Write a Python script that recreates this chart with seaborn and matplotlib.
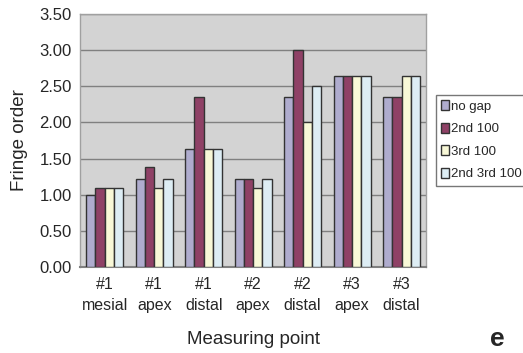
import numpy as np
import pandas as pd
import seaborn as sns
import matplotlib.pyplot as plt
from matplotlib.ticker import FixedLocator

# Measuring points (two-line tick labels)
points = ["#1\nmesial", "#1\napex", "#1\ndistal", "#2\napex", "#2\ndistal", "#3\napex", "#3\ndistal"]

# Fringe order for each gap condition
no_gap = [1.00, 1.22, 1.63, 1.22, 2.35, 2.64, 2.35]
second_100 = [1.09, 1.38, 2.35, 1.22, 3.00, 2.64, 2.35]
third_100 = [1.09, 1.09, 1.63, 1.09, 2.00, 2.64, 2.64]
second_third_100 = [1.09, 1.22, 1.63, 1.22, 2.50, 2.64, 2.64]

series_names = ["no gap", "2nd 100", "3rd 100", "2nd 3rd 100"]
series_colors = ["#aaa6d4", "#9c3466", "#fdfdd2", "#d9eef8"]

y_ticks = [0.0, 0.5, 1.0, 1.5, 2.0, 2.5, 3.0, 3.5]

rows = []
for name, vals in zip(series_names, [no_gap, second_100, third_100, second_third_100]):
    for p, v in zip(points, vals):
        rows.append({"point": p, "condition": name, "fringe": v})
df = pd.DataFrame(rows)

sns.set_theme(style="white")
plt.rcParams["font.family"] = ["Liberation Sans", "DejaVu Sans"]

fig = plt.figure(figsize=(5.23, 3.53), dpi=100)
ax = fig.add_axes([0.153, 0.244, 0.662, 0.716])
ax.set_facecolor("#d3d3d3")

sns.barplot(data=df, x="point", y="fringe", hue="condition", order=points,
            hue_order=series_names, palette=series_colors, width=0.75, gap=0,
            edgecolor="#333333", linewidth=1.0, errorbar=None, ax=ax, zorder=3)

ax.set_ylim(0, 3.5)
ax.set_xlim(-0.5, len(points) - 0.5)
ax.set_yticks(y_ticks)
ax.set_yticklabels([f"{t:.2f}" for t in y_ticks], fontsize=12)
ax.yaxis.grid(True, color="#808080", linewidth=1.0, zorder=0)
ax.set_axisbelow(True)

ax.set_xticks(range(len(points)))
ax.set_xticklabels(points, fontsize=11.5, linespacing=1.55)
ax.xaxis.set_minor_locator(FixedLocator(np.arange(-0.5, len(points), 1.0)))
ax.tick_params(axis="x", which="major", length=0, pad=7)
ax.tick_params(axis="x", which="minor", length=3, direction="in", color="#808080")
ax.tick_params(axis="y", length=0, pad=6)

for side in ["top", "right", "left"]:
    ax.spines[side].set_color("#a0a0a0")
    ax.spines[side].set_linewidth(1.0)
ax.spines["bottom"].set_color("#808080")
ax.spines["bottom"].set_linewidth(1.5)

ax.set_xlabel("Measuring point", fontsize=13.5, labelpad=13)
ax.set_ylabel("Fringe order", fontsize=13.5, labelpad=8)

handles, labels = ax.get_legend_handles_labels()
ax.legend(handles, labels, loc="upper left", bbox_to_anchor=(0.834, 0.731),
          bbox_transform=fig.transFigure, frameon=True, fancybox=False,
          edgecolor="#555555", fontsize=9.5, handlelength=0.6, handleheight=0.8,
          handletextpad=0.15, borderpad=0.4, labelspacing=0.75, borderaxespad=0)

fig.text(0.951, 0.04, "e", fontsize=19, fontweight="bold", ha="center", va="center")

fig.savefig("out.png", dpi=100)
